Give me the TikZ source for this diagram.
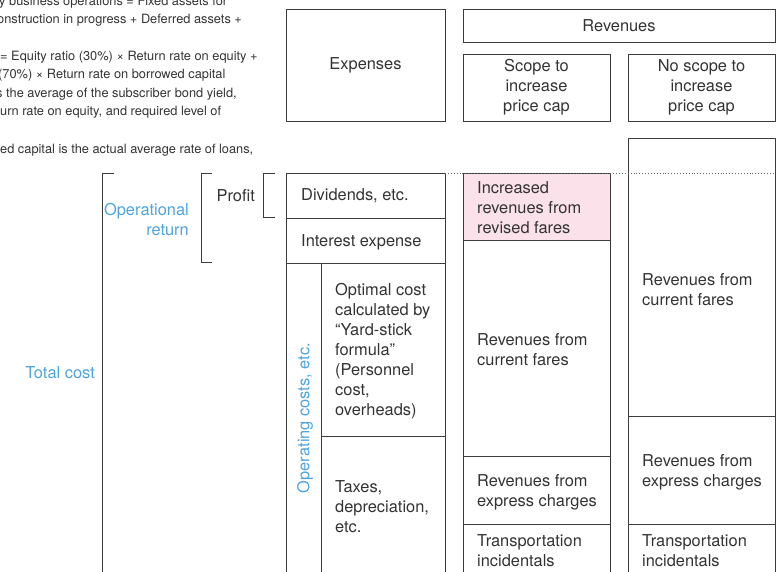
\documentclass[tikz,border=0pt]{standalone}
\usepackage{fontspec}
\setmainfont{TeX Gyre Heros}
\usetikzlibrary{positioning,calc}
\definecolor{InkGray}{RGB}{51,51,51}
\definecolor{RuleGray}{RGB}{60,60,60}
\definecolor{SkyBlue}{RGB}{78,164,220}
\definecolor{FarePink}{RGB}{251,225,234}
\tikzset{
	cell/.style={draw=RuleGray,line width=0.9pt,inner sep=0pt,outer sep=0pt,anchor=north west},
	lbl/.style={font=\fontsize{16.4}{20}\selectfont,text=InkGray,inner sep=0pt,align=left},
	blu/.style={lbl,text=SkyBlue},
	note/.style={font=\fontsize{12.8}{18.5}\selectfont,text=InkGray,inner sep=0pt,anchor=base west},
	brk/.style={draw=RuleGray,line width=0.9pt},
}

\begin{document}
\begin{tikzpicture}[x=1pt,y=-1pt]
	\useasboundingbox (0,0) rectangle (776,571);
	\clip (0,0) rectangle (776,571);
	% notes (cut at the left edge)
	\node[note] (n1) at (-1,5) {y business operations = Fixed assets for};
	\node[note] (n2) at (-3,23) {onstruction in progress + Deferred assets +};
	\node[note] (n3) at (0,60) {= Equity ratio (30\%) × Return rate on equity +};
	\node[note] (n4) at (-2,78) {(70\%) × Return rate on borrowed capital};
	\node[note] (n5) at (-4,97) {s the average of the subscriber bond yield,};
	\node[note] (n6) at (0,115) {urn rate on equity, and required level of};
	\node[note] (n7) at (0,153) {ed capital is the actual average rate of loans,};
	% headers
	\node[cell,minimum width=159,minimum height=112] (hexp) at (286,9) {};
	\node[cell,minimum width=312,minimum height=33] (hrev) at (463,9) {};
	\node[cell,minimum width=147,minimum height=67] (hscope) at (463,54) {};
	\node[cell,minimum width=147,minimum height=67] (hnone) at (628,54) {};
	\node[lbl] (texp) at (hexp.center) {Expenses};
	\node[lbl] (trev) at (hrev.center) {Revenues};
	\node[lbl,align=center] (tscope) at (hscope.center) {Scope to\\increase\\price cap};
	\node[lbl,align=center] (tnone) at (hnone.center) {No scope to\\increase\\price cap};
	% expenses column
	\node[cell,minimum width=159,minimum height=45] (div) at (286,173) {};
	\node[cell,minimum width=159,minimum height=45] (intr) at (286,218) {};
	\node[cell,minimum width=159,minimum height=330] (opc) at (286,263) {};
	\node[cell,minimum width=124,minimum height=173] (opt) at (321,263) {};
	\node[cell,minimum width=124,minimum height=157] (tax) at (321,436) {};
	\node[lbl,anchor=west] (tdiv) at (301,196) {Dividends, etc.};
	\node[lbl,anchor=west] (tintr) at (301,242) {Interest expense};
	\node[lbl,anchor=west] (topt) at (335,351) {Optimal cost\\calculated by\\“Yard-stick\\formula”\\(Personnel\\cost,\\overheads)};
	\node[lbl,anchor=west] (ttax) at (335,507) {Taxes,\\depreciation,\\etc.};
	\node[blu,rotate=90] (topc) at (305,418) {Operating costs, etc.};
	% scope to increase
	\node[cell,fill=FarePink,minimum width=147,minimum height=67] (incr) at (463,173) {};
	\node[cell,minimum width=147,minimum height=216] (curA) at (463,240) {};
	\node[cell,minimum width=147,minimum height=68] (expA) at (463,456) {};
	\node[cell,minimum width=147,minimum height=70] (traA) at (463,524) {};
	\node[lbl,anchor=west] (tincr) at (477,208) {Increased\\revenues from\\revised fares};
	\node[lbl,anchor=west] (tcurA) at (477,350) {Revenues from\\current fares};
	\node[lbl,anchor=west] (texpA) at (477,492) {Revenues from\\express charges};
	\node[lbl,anchor=west] (ttraA) at (477,551) {Transportation\\incidentals};
	% no scope to increase
	\node[cell,minimum width=147,minimum height=278] (curB) at (628,138) {};
	\node[cell,minimum width=147,minimum height=108] (expB) at (628,416) {};
	\node[cell,minimum width=147,minimum height=70] (traB) at (628,524) {};
	\node[lbl,anchor=west] (tcurB) at (642,290) {Revenues from\\current fares};
	\node[lbl,anchor=west] (texpB) at (642,472) {Revenues from\\express charges};
	\node[lbl,anchor=west] (ttraB) at (642,551) {Transportation\\incidentals};
	% dotted level line
	\coordinate (dotend) at (776,173);
	\draw[RuleGray!80,line width=0.9pt,dotted] (div.north east) -- (dotend);
	% brackets
	\node[lbl,anchor=east] (tprof) at (255,196) {Profit};
	\node[blu,anchor=east,align=right] (tret) at (189,219) {Operational\\return};
	\node[blu,anchor=east] (ttot) at (95,373) {Total cost};
	\draw[brk] (275,173) -- (263,173) -- (263,217) -- (275,217);
	\draw[brk] (212,173) -- (201,173) -- (201,262) -- (212,262);
	\draw[brk] (114,173) -- (102,173) -- (102,590);
\end{tikzpicture}
\end{document}
